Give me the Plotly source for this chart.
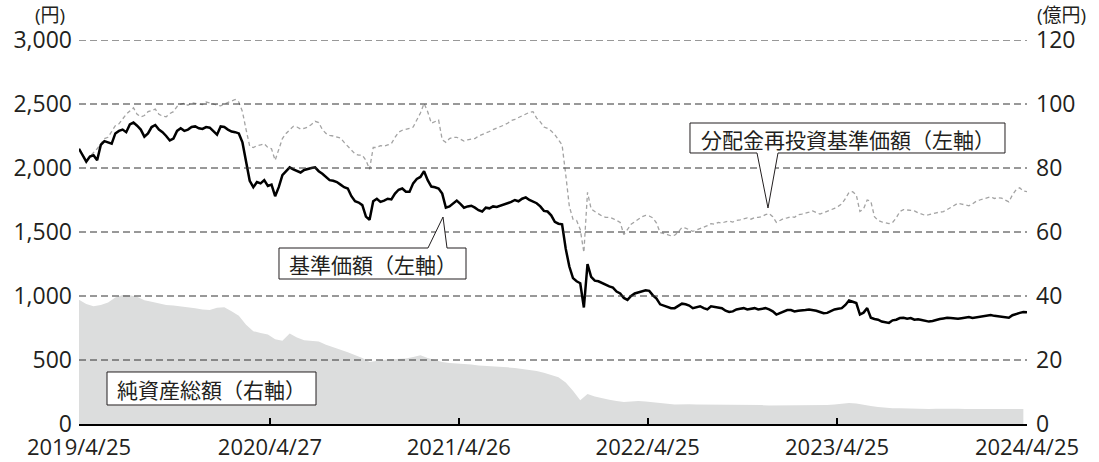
import pandas as pd
import plotly.graph_objects as go

# ---- data ----
dates = pd.date_range("2019-04-25", "2024-04-25", freq="7D")      # weekly, 262 points
dates_na = pd.date_range("2019-04-25", periods=131, freq="14D")   # bi-weekly for net assets

nav = [2150, 2100, 2050, 2090, 2100, 2060, 2180, 2210, 2200, 2190,
       2270, 2290, 2300, 2280, 2340, 2355, 2330, 2300, 2245, 2270,
       2320, 2336, 2300, 2280, 2250, 2215, 2230, 2290, 2310, 2290,
       2300, 2320, 2325, 2310, 2305, 2320, 2315, 2290, 2260, 2325,
       2320, 2300, 2285, 2280, 2270, 2200, 2050, 1900, 1850, 1890,
       1880, 1905, 1860, 1870, 1780, 1850, 1945, 1975, 2005, 1990,
       1975, 1965, 1985, 1995, 2000, 2005, 1975, 1955, 1930, 1905,
       1900, 1890, 1870, 1850, 1840, 1780, 1740, 1730, 1710, 1620,
       1595, 1740, 1760, 1735, 1745, 1760, 1755, 1800, 1830, 1840,
       1815, 1815, 1880, 1915, 1930, 1975, 1905, 1855, 1850, 1840,
       1800, 1690, 1700, 1725, 1745, 1720, 1690, 1700, 1705, 1690,
       1670, 1660, 1690, 1685, 1700, 1695, 1705, 1715, 1720, 1735,
       1750, 1740, 1760, 1770, 1750, 1740, 1725, 1700, 1665, 1660,
       1630, 1580, 1565, 1560, 1370, 1230, 1140, 1115, 1100, 910,
       1250, 1150, 1120, 1115, 1100, 1090, 1075, 1065, 1035, 1020,
       985, 970, 1000, 1020, 1030, 1040, 1045, 1040, 1005, 980,
       935, 925, 915, 905, 905, 920, 940, 935, 925, 905,
       915, 920, 905, 895, 920, 915, 910, 905, 885, 875,
       880, 895, 900, 905, 895, 900, 905, 895, 900, 905,
       895, 880, 855, 865, 880, 890, 890, 880, 885, 885,
       890, 895, 892, 885, 875, 865, 868, 880, 895, 900,
       905, 930, 965, 955, 945, 855, 870, 905, 830, 820,
       815, 800, 795, 790, 810, 815, 828, 830, 822, 828,
       815, 818, 812, 808, 800, 805, 815, 820, 825, 830,
       828, 822, 822, 826, 830, 835, 828, 832, 840, 845,
       850, 852, 845, 842, 836, 832, 830, 850, 862, 868,
       875, 872]

nav_reinv = [2150, 2110, 2060, 2090, 2120, 2150, 2190, 2230, 2240, 2290,
             2330, 2345, 2380, 2420, 2445, 2470, 2420, 2400, 2410, 2440,
             2450, 2460, 2420, 2405, 2400, 2425, 2440, 2480, 2500, 2505,
             2490, 2510, 2505, 2500, 2495, 2515, 2510, 2500, 2490, 2485,
             2500, 2510, 2525, 2535, 2515, 2440, 2300, 2170, 2160, 2175,
             2180, 2190, 2160, 2150, 2060, 2150, 2230, 2270, 2300, 2325,
             2320, 2305, 2310, 2320, 2340, 2365, 2355, 2300, 2270, 2255,
             2250, 2240, 2235, 2200, 2170, 2140, 2110, 2100, 2100, 2060,
             1990, 2160, 2160, 2175, 2170, 2180, 2190, 2240, 2280, 2295,
             2300, 2310, 2320, 2370, 2430, 2505, 2440, 2350, 2360, 2375,
             2220, 2200, 2230, 2240, 2240, 2225, 2210, 2220, 2225, 2230,
             2250, 2260, 2270, 2285, 2300, 2310, 2320, 2335, 2350, 2370,
             2380, 2395, 2410, 2420, 2435, 2440, 2390, 2360, 2320, 2310,
             2290, 2260, 2220, 2180, 1950, 1700, 1600, 1590, 1520, 1340,
             1810, 1680, 1660, 1640, 1625, 1615, 1615, 1605, 1590, 1575,
             1480, 1520, 1560, 1580, 1600, 1620, 1630, 1625, 1610, 1570,
             1495, 1490, 1480, 1470, 1475, 1500, 1535, 1530, 1520, 1505,
             1515, 1525, 1540, 1550, 1565, 1560, 1575, 1570, 1580, 1585,
             1578, 1590, 1595, 1605, 1610, 1600, 1612, 1615, 1620, 1635,
             1645, 1620, 1575, 1590, 1605, 1610, 1620, 1615, 1635, 1640,
             1645, 1655, 1665, 1650, 1640, 1650, 1660, 1670, 1685, 1700,
             1720, 1760, 1810, 1815, 1790, 1660, 1680, 1750, 1740, 1620,
             1590, 1580, 1570, 1565, 1575, 1610, 1660, 1675, 1672, 1668,
             1665, 1650, 1640, 1630, 1635, 1645, 1650, 1655, 1660, 1675,
             1690, 1710, 1725, 1718, 1712, 1705, 1720, 1740, 1750, 1760,
             1770, 1775, 1762, 1768, 1765, 1750, 1735, 1790, 1830, 1845,
             1820, 1815]

net_assets = [38.8, 37.5, 36.8, 37.2, 38.0, 39.5, 40.3, 40.2, 39.8, 38.7,
              38.2, 37.6, 37.2, 37.0, 36.8, 36.6, 36.2, 35.8, 35.6, 36.3,
              36.5, 35.2, 33.8, 31.0, 29.0, 28.4, 28.0, 26.5, 26.0, 28.3,
              27.0, 26.2, 26.0, 25.8, 24.8, 23.9, 23.2, 22.4, 21.5, 20.6,
              19.4, 19.8, 20.1, 20.2, 20.3, 20.5, 20.9, 21.5, 20.6, 19.9,
              19.4, 19.1, 19.0, 18.8, 18.6, 18.3, 18.2, 18.0, 17.9, 17.7,
              17.5, 17.2, 16.9, 16.6, 16.0, 15.2, 14.6, 13.0, 10.4, 7.4,
              9.4, 8.6, 8.0, 7.6, 7.2, 6.9, 7.0, 7.2, 7.0, 6.7,
              6.5, 6.3, 6.1, 6.2, 6.2, 6.1, 6.1, 6.1, 6.0, 6.1,
              6.0, 5.9, 6.0, 5.9, 5.9, 5.8, 5.8, 5.9, 5.9, 5.9,
              5.9, 6.0, 5.9, 5.9, 6.1, 6.3, 6.6, 6.4, 5.9, 5.6,
              5.3, 5.0, 4.9, 4.9, 4.8, 4.8, 4.8, 4.7, 4.75, 4.8,
              4.8, 4.75, 4.7, 4.7, 4.7, 4.65, 4.6, 4.5, 4.5, 4.7,
              4.7]

tick_dates = ["2019-04-25", "2020-04-27", "2021-04-26", "2022-04-25", "2023-04-25", "2024-04-25"]
tick_labels = ["2019/4/25", "2020/4/27", "2021/4/26", "2022/4/25", "2023/4/25", "2024/4/25"]
left_ticks = [0, 500, 1000, 1500, 2000, 2500, 3000]
right_ticks = [0, 20, 40, 60, 80, 100, 120]

# ---- layout geometry ----
W, H = 1099, 462
L, R, T, B = 79, 72, 40, 38
PW, PH = W - L - R, H - T - B
FONT = "Open Sans, Noto Sans CJK JP"
JFONT = "Noto Sans CJK JP"
TXT = "#231f20"
TICK_SIZE = 23


def px(x):
    return (x - L) / PW


def py(y):
    return (H - B - y) / PH


def path(points):
    return "M " + " L ".join(f"{px(x):.5f},{py(y):.5f}" for x, y in points) + " Z"


fig = go.Figure()

fig.add_trace(go.Scatter(
    x=dates_na, y=net_assets, yaxis="y2", mode="lines",
    line=dict(width=0, color="#dcdddd"), fill="tozeroy", fillcolor="#dcdddd",
    name="純資産総額", hoverinfo="skip"))

fig.add_trace(go.Scatter(
    x=dates, y=nav_reinv, mode="lines",
    line=dict(color="#a3a3a3", width=1.3, dash="4px,3px"),
    name="分配金再投資基準価額", hoverinfo="skip"))

fig.add_trace(go.Scatter(
    x=dates, y=nav, mode="lines",
    line=dict(color="#000000", width=2.5),
    name="基準価額", hoverinfo="skip"))

shapes = []
for v in left_ticks[1:]:
    shapes.append(dict(type="line", xref="paper", yref="y", x0=0, x1=1, y0=v, y1=v,
                       line=dict(color="#333333", width=1, dash="7px,4px"), layer="above"))

# callout boxes
shapes.append(dict(type="path", xref="paper", yref="paper",
                   path=path([(279, 248), (428, 248), (443, 217), (447, 248), (466, 248), (466, 279), (279, 279)]),
                   fillcolor="white", line=dict(color="#231f20", width=1), layer="above"))
shapes.append(dict(type="path", xref="paper", yref="paper",
                   path=path([(690, 123), (1005, 123), (1005, 153), (778, 153), (768, 208), (757, 153), (690, 153)]),
                   fillcolor="white", line=dict(color="#231f20", width=1), layer="above"))
shapes.append(dict(type="path", xref="paper", yref="paper",
                   path=path([(107, 372), (316, 372), (316, 405), (107, 405)]),
                   fillcolor="white", line=dict(color="#231f20", width=1), layer="above"))

annotations = [
    dict(text="基準価額（左軸）", x=px(373), y=py(264), xref="paper", yref="paper",
         showarrow=False, font=dict(family=JFONT, size=21, color=TXT), xanchor="center", yanchor="middle"),
    dict(text="分配金再投資基準価額（左軸）", x=px(848), y=py(138.5), xref="paper", yref="paper",
         showarrow=False, font=dict(family=JFONT, size=21, color=TXT), xanchor="center", yanchor="middle"),
    dict(text="純資産総額（右軸）", x=px(211.5), y=py(389), xref="paper", yref="paper",
         showarrow=False, font=dict(family=JFONT, size=21, color=TXT), xanchor="center", yanchor="middle"),
    dict(text="(円)", x=px(50), y=py(15), xref="paper", yref="paper",
         showarrow=False, font=dict(family=FONT, size=19, color=TXT), xanchor="center", yanchor="middle"),
    dict(text="(億円)", x=px(1061), y=py(15), xref="paper", yref="paper",
         showarrow=False, font=dict(family=FONT, size=19, color=TXT), xanchor="center", yanchor="middle"),
]

fig.update_layout(
    width=W, height=H,
    margin=dict(l=L, r=R, t=T, b=B, pad=0, autoexpand=False),
    paper_bgcolor="white", plot_bgcolor="white",
    showlegend=False, hovermode=False,
    font=dict(family=FONT, size=TICK_SIZE, color=TXT),
    xaxis=dict(type="date", range=[tick_dates[0], tick_dates[-1]],
               tickvals=tick_dates, ticktext=tick_labels,
               showgrid=False, zeroline=False, automargin=False,
               showline=True, linecolor="#000000", linewidth=2,
               ticks="inside", ticklen=6, tickwidth=2, tickcolor="#000000",
               ticklabelstandoff=3,
               tickfont=dict(family=FONT, size=22, color=TXT)),
    yaxis=dict(range=[0, 3000], tickvals=left_ticks, tickformat=",",
               showgrid=False, zeroline=False, showline=False, ticks="", automargin=False,
               ticklabelstandoff=6,
               tickfont=dict(family=FONT, size=TICK_SIZE, color=TXT)),
    yaxis2=dict(range=[0, 120], tickvals=right_ticks, overlaying="y", side="right",
                showgrid=False, zeroline=False, showline=False, ticks="", automargin=False,
                ticklabelstandoff=8,
                tickfont=dict(family=FONT, size=TICK_SIZE, color=TXT)),
    shapes=shapes,
    annotations=annotations,
)

fig.write_html("out.html", config={"displayModeBar": False},
               post_script="document.body.style.margin='0';")
